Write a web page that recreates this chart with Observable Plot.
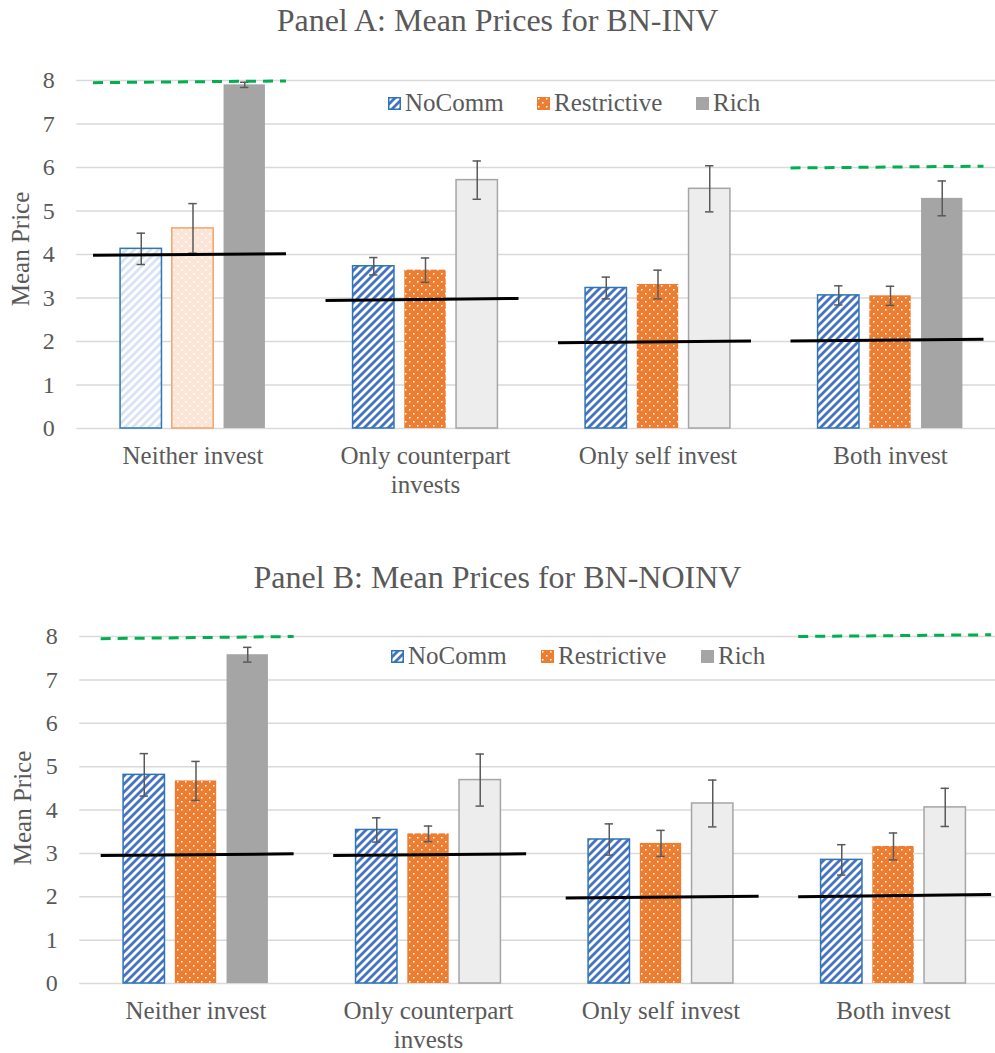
<!DOCTYPE html>
<html>
<head>
<meta charset="utf-8">
<script src="https://cdn.jsdelivr.net/npm/d3@7"></script>
<script src="https://cdn.jsdelivr.net/npm/@observablehq/plot@0.6"></script>
<style>
  body { margin: 0; background: #fff; font-family: "Liberation Serif", "DejaVu Serif", "Noto Serif", Times, serif; }
  #root { position: relative; width: 995px; height: 1053px; overflow: hidden; }
  .title { position: absolute; left: 0; width: 995px; text-align: center; font-size: 32px; color: #595959; line-height: 40px; white-space: nowrap; }
  .ytitle { position: absolute; font-size: 25px; color: #595959; white-space: nowrap; transform: translate(-50%, -50%) rotate(-90deg); line-height: 30px; }
  .legitem { position: absolute; font-size: 25px; color: #595959; line-height: 30px; white-space: nowrap; display: flex; align-items: center; }
  .legitem svg { margin-right: 4px; }
  #root svg text { font-family: "Liberation Serif", "DejaVu Serif", "Noto Serif", Times, serif; }
</style>
</head>
<body>
<svg width="0" height="0" style="position:absolute">
  <defs>
    <pattern id="hatch" patternUnits="userSpaceOnUse" width="8" height="8">
      <rect width="8" height="8" fill="#ffffff"/>
      <path d="M-2,2 L2,-2 M0,8 L8,0 M6,10 L10,6" stroke="#4472c4" stroke-width="2.8"/>
    </pattern>
    <pattern id="hatchLight" patternUnits="userSpaceOnUse" width="8" height="8">
      <rect width="8" height="8" fill="#ffffff"/>
      <path d="M-2,2 L2,-2 M0,8 L8,0 M6,10 L10,6" stroke="#dae3f3" stroke-width="2.8"/>
    </pattern>
    <pattern id="dots" patternUnits="userSpaceOnUse" width="8" height="8">
      <rect width="8" height="8" fill="#ed7d31"/>
      <rect x="1" y="1" width="1.5" height="1.5" fill="#ffffff"/>
      <rect x="5" y="5" width="1.5" height="1.5" fill="#ffffff"/>
    </pattern>
    <pattern id="dotsLight" patternUnits="userSpaceOnUse" width="8" height="8">
      <rect width="8" height="8" fill="#fbe5d6"/>
      <rect x="1" y="1" width="1.5" height="1.5" fill="#ffffff"/>
      <rect x="5" y="5" width="1.5" height="1.5" fill="#ffffff"/>
    </pattern>
  </defs>
</svg>
<div id="root"></div>
<script>
// ---------- DATA ----------
const groups = ["Neither invest", "Only counterpart invests", "Only self invest", "Both invest"];
const groupLabels = ["Neither invest", "Only counterpart\ninvests", "Only self invest", "Both invest"];
const series = ["NoComm", "Restrictive", "Rich"];
const yTicks = [0, 1, 2, 3, 4, 5, 6, 7, 8];

const titleA = "Panel A: Mean Prices for BN-INV";
const titleB = "Panel B: Mean Prices for BN-NOINV";
const yLabel = "Mean Price";

// Panel A means and error half-widths
const meanA_NoComm      = [4.13, 3.73, 3.23, 3.06];
const meanA_Restrictive = [4.60, 3.64, 3.31, 3.05];
const meanA_Rich        = [7.90, 5.71, 5.51, 5.29];
const errA_NoComm       = [0.36, 0.20, 0.25, 0.22];
const errA_Restrictive  = [0.57, 0.28, 0.33, 0.22];
const errA_Rich         = [0.06, 0.44, 0.53, 0.40];

// Panel B means and error half-widths
const meanB_NoComm      = [4.81, 3.54, 3.32, 2.85];
const meanB_Restrictive = [4.67, 3.45, 3.23, 3.16];
const meanB_Rich        = [7.58, 4.69, 4.15, 4.06];
const errB_NoComm       = [0.49, 0.28, 0.36, 0.35];
const errB_Restrictive  = [0.45, 0.18, 0.30, 0.31];
const errB_Rich         = [0.17, 0.60, 0.54, 0.44];

// Benchmark (black solid) line: value at left end and right end
const benchA_start = [3.98, 2.94, 1.97, 2.01];
const benchA_end   = [4.02, 2.99, 2.01, 2.05];
const benchB_start = [2.95, 2.95, 1.97, 2.00];
const benchB_end   = [2.99, 2.99, 2.01, 2.05];

// Upper benchmark (green dashed) line, null where absent
const upperA_start = [7.95, null, null, 5.99];
const upperA_end   = [7.99, null, null, 6.03];
const upperB_start = [7.95, null, null, 8.00];
const upperB_end   = [8.00, null, null, 8.04];

// Rich bar shaded dark in these groups; NoComm/Restrictive faded in these groups
const richDarkA = [true, false, false, true];
const richDarkB = [true, false, false, false];
const fadedA = [true, false, false, false];
const fadedB = [false, false, false, false];

// ---------- LAYOUT ----------
const FONT = "'Liberation Serif', 'DejaVu Serif', 'Noto Serif', Times, serif";
const offs = [-0.2225, 0, 0.2225];
const bw = 0.178;
const cap = 0.018;

function buildPanel(p) {
  const rows = [];
  groups.forEach((g, i) => series.forEach((s, j) => rows.push({
    i, j, s, v: p.means[j][i], e: p.errs[j][i], c: i + offs[j],
    faded: p.faded[i], dark: p.richDark[i]
  })));
  const sel = (s, f) => rows.filter(d => d.s === s && f(d));
  const bench = groups.map((g, i) => ({i, a: p.bench0[i], b: p.bench1[i]}));
  const ups = groups.map((g, i) => ({i, a: p.up0[i], b: p.up1[i]})).filter(d => d.a != null);
  const R = (extra) => ({x1: d => d.c - bw / 2, x2: d => d.c + bw / 2, y1: 0, y2: "v", ...extra});
  return Plot.plot({
    width: 995, height: p.height,
    marginTop: p.mt, marginBottom: p.mb, marginLeft: p.x0, marginRight: 0,
    x: {type: "linear", domain: [-0.5, 3.5], range: [p.x0, p.x0 + 930]},
    y: {domain: [0, 8]},
    style: {fontFamily: FONT, color: "#595959", background: "transparent", overflow: "hidden"},
    marks: [
      Plot.gridY({ticks: yTicks, stroke: "#d9d9d9", strokeOpacity: 1, strokeWidth: 1.5}),
      Plot.axisY({ticks: yTicks, tickSize: 0, tickPadding: 22, label: null, fontSize: 24, fill: "#595959", fontFamily: FONT}),
      Plot.axisX({ticks: [0, 1, 2, 3], tickFormat: i => groupLabels[i], tickSize: 0, tickPadding: 15, label: null, fontSize: 25, lineHeight: 1.16, fill: "#595959", fontFamily: FONT}),
      Plot.rect(sel("NoComm", d => !d.faded), R({fill: "url(#hatch)", stroke: "#2e75b6", strokeWidth: 1.5})),
      Plot.rect(sel("NoComm", d => d.faded), R({fill: "url(#hatchLight)", stroke: "#2e75b6", strokeWidth: 1.5})),
      Plot.rect(sel("Restrictive", d => !d.faded), R({fill: "url(#dots)"})),
      Plot.rect(sel("Restrictive", d => d.faded), R({fill: "url(#dotsLight)", stroke: "#f4a46e", strokeWidth: 1.5})),
      Plot.rect(sel("Rich", d => d.dark), R({fill: "#a5a5a5"})),
      Plot.rect(sel("Rich", d => !d.dark), R({fill: "#ededed", stroke: "#a5a5a5", strokeWidth: 1.5})),
      Plot.ruleX(rows, {x: "c", y1: d => d.v - d.e, y2: d => d.v + d.e, stroke: "#595959", strokeWidth: 1.5}),
      Plot.ruleY(rows, {y: d => d.v + d.e, x1: d => d.c - cap, x2: d => d.c + cap, stroke: "#595959", strokeWidth: 1.5}),
      Plot.ruleY(rows, {y: d => d.v - d.e, x1: d => d.c - cap, x2: d => d.c + cap, stroke: "#595959", strokeWidth: 1.5}),
      Plot.link(bench, {x1: d => d.i + p.lx[0], x2: d => d.i + p.lx[1], y1: "a", y2: "b", stroke: "#000", strokeWidth: 3}),
      Plot.link(ups, {x1: d => d.i + p.lx[0], x2: d => d.i + p.lx[1], y1: "a", y2: "b", stroke: "#00b050", strokeWidth: 3, strokeDasharray: "10,7"})
    ]
  });
}

const root = document.getElementById("root");

function addPanel(top, cfg, title, titleY, yTitlePos, legendPos) {
  const svg = buildPanel(cfg);
  svg.style.position = "absolute";
  svg.style.left = "0px";
  svg.style.top = top + "px";
  root.appendChild(svg);
  const t = document.createElement("div");
  t.className = "title";
  t.style.top = (titleY - 20) + "px";
  t.textContent = title;
  root.appendChild(t);
  const yt = document.createElement("div");
  yt.className = "ytitle";
  yt.style.left = yTitlePos[0] + "px";
  yt.style.top = yTitlePos[1] + "px";
  yt.textContent = yLabel;
  root.appendChild(yt);
  const sw = [
    '<rect x="0.75" y="0.75" width="11.5" height="11.5" fill="url(#hatch)" stroke="#2e75b6" stroke-width="1.5"/>',
    '<rect x="0" y="0" width="13" height="13" fill="url(#dots)"/>',
    '<rect x="0" y="0" width="13" height="13" fill="#a5a5a5"/>'
  ];
  series.forEach((s, j) => {
    const it = document.createElement("div");
    it.className = "legitem";
    it.style.left = legendPos.xs[j] + "px";
    it.style.top = (legendPos.y - 15) + "px";
    it.innerHTML = '<svg width="13" height="13">' + sw[j] + '</svg><span>' + s + '</span>';
    root.appendChild(it);
  });
}

addPanel(0, {
  height: 520, mt: 80, mb: 92, x0: 76.25,
  means: [meanA_NoComm, meanA_Restrictive, meanA_Rich],
  errs: [errA_NoComm, errA_Restrictive, errA_Rich],
  bench0: benchA_start, bench1: benchA_end, up0: upperA_start, up1: upperA_end,
  richDark: richDarkA, faded: fadedA, lx: [-0.43, 0.40]
}, titleA, 20, [21, 249], {y: 103, xs: [388, 537, 696]});

addPanel(540, {
  height: 513, mt: 96, mb: 70, x0: 79.25,
  means: [meanB_NoComm, meanB_Restrictive, meanB_Rich],
  errs: [errB_NoComm, errB_Restrictive, errB_Rich],
  bench0: benchB_start, bench1: benchB_end, up0: upperB_start, up1: upperB_end,
  richDark: richDarkB, faded: fadedB, lx: [-0.41, 0.42]
}, titleB, 577, [23, 808], {y: 656, xs: [391, 541, 701]});
</script>
</body>
</html>
